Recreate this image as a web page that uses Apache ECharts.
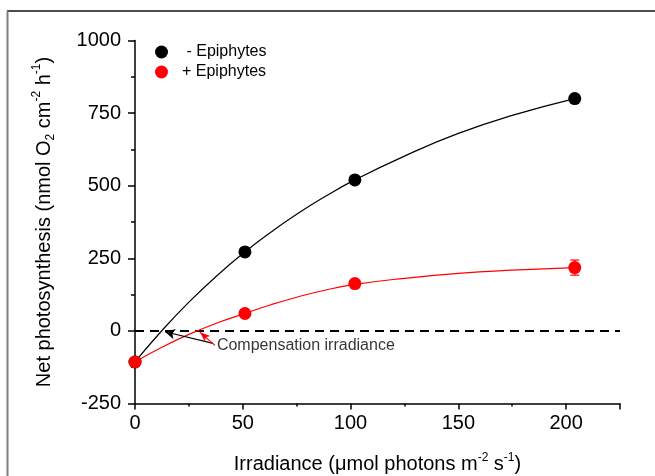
<!DOCTYPE html>
<html>
<head>
<meta charset="utf-8">
<script src="https://cdn.jsdelivr.net/npm/echarts@6/dist/echarts.min.js"></script>
<style>
html,body{margin:0;padding:0;background:#fff;}
#chart{width:655px;height:476px;}
</style>
</head>
<body>
<div id="chart"></div>
<script>
// ---- data ----
const irradiance = [0, 51, 102, 204];
const minusEpiphytes = [-107, 272, 520, 800];
const plusEpiphytes = [-107, 60, 163, 218];
const plusEpiphytesErr = [0, 0, 0, 26];

// fitted curves
const curveX = [0, 12, 25, 38, 51, 63, 75, 88, 102, 125, 150, 175, 204];
const minusCurve = [-107, -3, 99, 190, 272, 340, 402, 462, 520, 602, 680, 742, 800];
const plusCurve = [-107, -58, -12, 27, 60, 90, 116, 140, 160, 181, 198, 209, 218];

const xTicks = [0, 50, 100, 150, 200];
const yTicks = [-250, 0, 250, 500, 750, 1000];
const zeroLineX = [0, 225];

// annotation arrows (data coords): [fromX, fromY, toX, toY]
const blackArrow = [36.2, -43, 13.9, -3];
const redArrow = [37.1, -50, 30.2, -5];
const annotationPos = [38, -50];
const annotationText = 'Compensation irradiance';

const FONT = '"Liberation Sans", Arial, sans-serif';
const pair = (xs, ys) => xs.map((x, i) => [x, ys[i]]);

const chart = echarts.init(document.getElementById('chart'), null, {renderer: 'canvas'});

const option = {
  animation: false,
  backgroundColor: '#ffffff',
  textStyle: {fontFamily: FONT},
  grid: {left: 135, right: 35, top: 40.5, bottom: 72.5, containLabel: false, outerBoundsMode: 'none'},
  legend: {
    left: 150, top: 39,
    orient: 'vertical',
    itemWidth: 13, itemHeight: 13, itemGap: 4,
    icon: 'circle',
    data: ['- Epiphytes', '+ Epiphytes'],
    formatter: n => n.charAt(0) === '-' ? ' ' + n : n,
    textStyle: {fontFamily: FONT, fontSize: 16, color: '#000', lineHeight: 16, padding: [0, 0, 0, 9]}
  },
  xAxis: {
    type: 'value', min: 0, max: 225, interval: 50,
    name: '{n|Irradiance (μmol photons m}{sup|-2}{n| s}{sup|-1}{n|)}',
    nameLocation: 'middle', nameGap: 48,
    nameTextStyle: {
      rich: {
        n: {fontFamily: FONT, fontSize: 20, color: '#000', lineHeight: 26},
        sup: {fontFamily: FONT, fontSize: 12, color: '#000', lineHeight: 12, verticalAlign: 'top'}
      }
    },
    axisLine: {show: true, onZero: false, lineStyle: {color: '#000', width: 1.5}},
    axisTick: {show: true, inside: false, length: 6, lineStyle: {color: '#000', width: 1.5}},
    minorTick: {show: true, splitNumber: 2, length: 3, lineStyle: {color: '#000', width: 1.5}},
    splitLine: {show: false},
    axisLabel: {
      fontFamily: FONT, fontSize: 20, color: '#000', margin: 10,
      formatter: v => xTicks.indexOf(v) >= 0 ? String(v) : ''
    }
  },
  yAxis: {
    type: 'value', min: -250, max: 1000, interval: 250,
    name: '{n|Net photosynthesis (nmol O}{sub|2}{n| cm}{sup|-2}{n| h}{sup|-1}{n|)}',
    nameLocation: 'middle', nameGap: 78, nameRotate: 90,
    nameTextStyle: {
      rich: {
        n: {fontFamily: FONT, fontSize: 20, color: '#000', lineHeight: 26},
        sup: {fontFamily: FONT, fontSize: 12, color: '#000', lineHeight: 12, verticalAlign: 'top'},
        sub: {fontFamily: FONT, fontSize: 12, color: '#000', lineHeight: 12, verticalAlign: 'bottom'}
      }
    },
    axisLine: {show: true, onZero: false, lineStyle: {color: '#000', width: 1.5}},
    axisTick: {show: true, inside: false, length: 7, lineStyle: {color: '#000', width: 1.5}},
    minorTick: {show: true, splitNumber: 2, length: 4, lineStyle: {color: '#000', width: 1.5}},
    splitLine: {show: false},
    axisLabel: {
      fontFamily: FONT, fontSize: 20, color: '#000', margin: 14,
      formatter: v => yTicks.indexOf(v) >= 0 ? String(v) : ''
    }
  },
  series: [
    {
      name: 'zero', type: 'line', data: pair(zeroLineX, [0, 0]),
      symbol: 'none', silent: true, z: 1,
      lineStyle: {color: '#000', width: 2, type: [9, 6]},
      markLine: {
        silent: true, animation: false,
        symbol: ['none', 'arrow'],
        label: {show: false},
        data: [
          [{coord: [blackArrow[0], blackArrow[1]], symbol: 'none', lineStyle: {color: '#000', width: 1.2, type: 'solid'}},
           {coord: [blackArrow[2], blackArrow[3]], symbol: 'arrow', symbolSize: [8, 10]}],
          [{coord: [redArrow[0], redArrow[1]], symbol: 'none', lineStyle: {color: '#ff0000', width: 1.2, type: 'solid'}},
           {coord: [redArrow[2], redArrow[3]], symbol: 'arrow', symbolSize: [6, 10]}]
        ]
      }
    },
    {
      name: 'minusCurve', type: 'line', data: pair(curveX, minusCurve),
      smooth: 0.5, symbol: 'none', silent: true, z: 2,
      lineStyle: {color: '#000', width: 1.2}
    },
    {
      name: 'plusCurve', type: 'line', data: pair(curveX, plusCurve),
      smooth: 0.5, symbol: 'none', silent: true, z: 2,
      lineStyle: {color: '#ff0000', width: 1.2}
    },
    {
      name: 'err', type: 'custom', z: 3, silent: true,
      data: irradiance.map((x, i) => [x, plusEpiphytes[i], plusEpiphytesErr[i]]).filter(d => d[2] > 0),
      renderItem: function (params, api) {
        const x = api.value(0), y = api.value(1), e = api.value(2);
        const top = api.coord([x, y + e]);
        const bot = api.coord([x, y - e]);
        const hw = 4.5;
        const style = {stroke: '#ff0000', lineWidth: 1.2};
        return {
          type: 'group',
          children: [
            {type: 'line', shape: {x1: top[0], y1: top[1], x2: bot[0], y2: bot[1]}, style: style},
            {type: 'line', shape: {x1: top[0] - hw, y1: top[1], x2: top[0] + hw, y2: top[1]}, style: style},
            {type: 'line', shape: {x1: bot[0] - hw, y1: bot[1], x2: bot[0] + hw, y2: bot[1]}, style: style}
          ]
        };
      }
    },
    {
      name: '- Epiphytes', type: 'scatter', data: pair(irradiance, minusEpiphytes),
      symbol: 'circle', symbolSize: 13, z: 4,
      itemStyle: {color: '#000', opacity: 1}
    },
    {
      name: '+ Epiphytes', type: 'scatter', data: pair(irradiance, plusEpiphytes),
      symbol: 'circle', symbolSize: 13, z: 5,
      itemStyle: {color: '#ff0000', opacity: 1}
    },
    {
      name: 'annotation', type: 'scatter', data: [annotationPos],
      symbolSize: 0, silent: true, z: 6,
      label: {
        show: true, position: 'right', distance: 0,
        formatter: annotationText,
        fontFamily: FONT, fontSize: 16, color: '#000'
      }
    }
  ],
  graphic: [
    {type: 'line', silent: true, shape: {x1: 7, y1: 11, x2: 655, y2: 11}, style: {stroke: '#111', lineWidth: 1.5}},
    {type: 'line', silent: true, shape: {x1: 7.5, y1: 11, x2: 7.5, y2: 476}, style: {stroke: '#808080', lineWidth: 2}}
  ]
};
chart.setOption(option);
</script>
</body>
</html>
